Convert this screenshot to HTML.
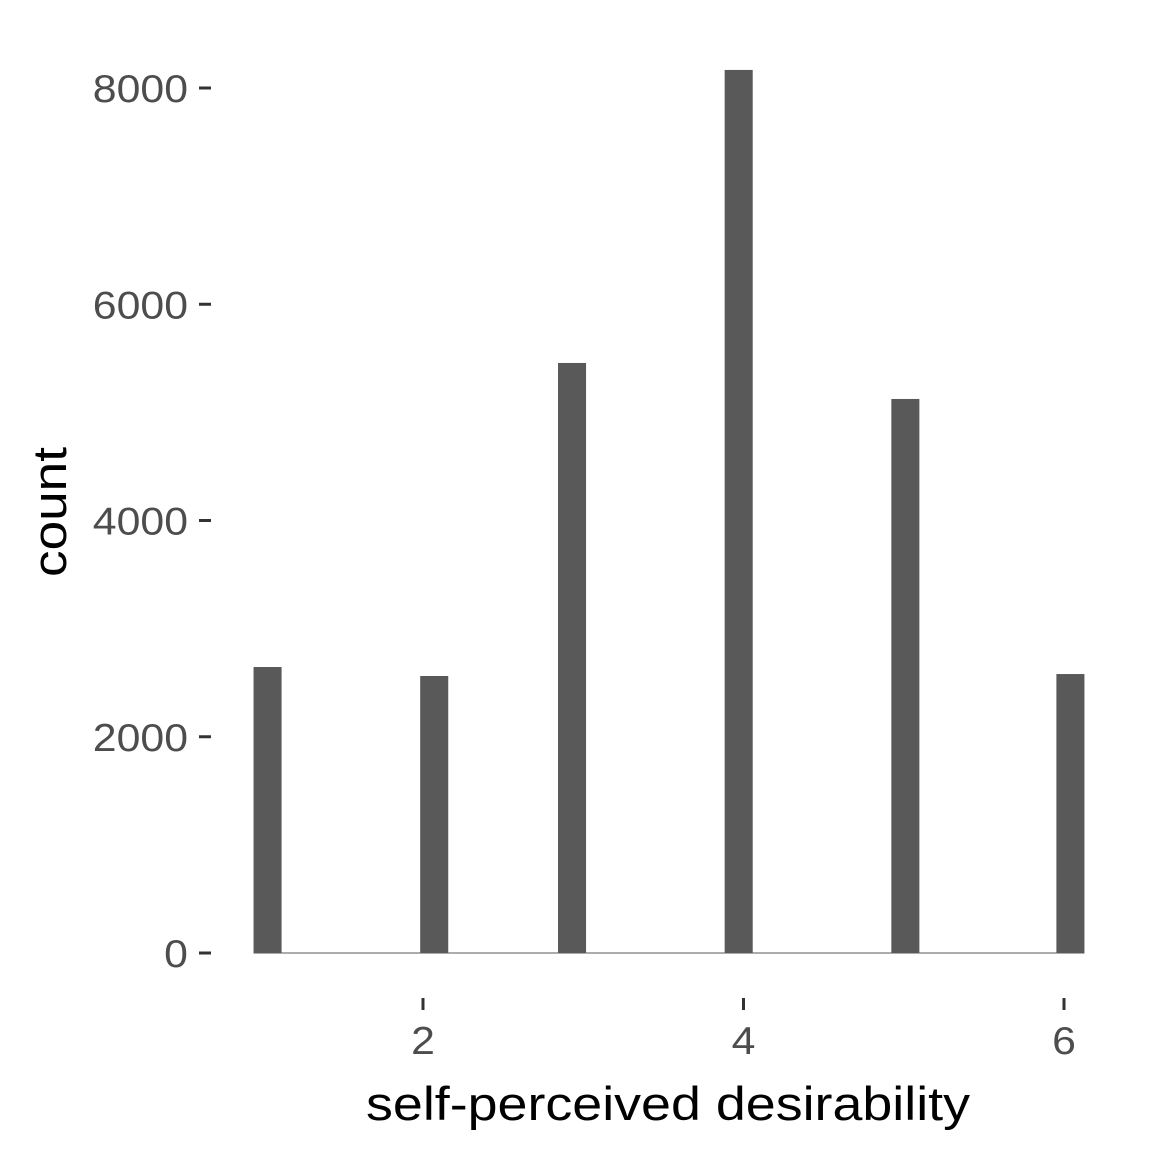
<!DOCTYPE html>
<html><head><meta charset="utf-8"><style>
html,body{margin:0;padding:0;background:#fff;}
svg{display:block;font-family:"Liberation Sans",Arial,sans-serif;}
</style></head><body>
<svg id="chart" width="1152" height="1152" viewBox="0 0 1152 1152" xmlns="http://www.w3.org/2000/svg">
<g id="bars"></g>
<g id="yaxis"></g>
<g id="xaxis"></g>
<text x="668" y="1120" text-anchor="middle" font-size="47" textLength="604" lengthAdjust="spacingAndGlyphs" fill="#000">self-perceived desirability</text>
<text transform="translate(66,512) rotate(-90)" text-anchor="middle" font-size="47" textLength="130" lengthAdjust="spacingAndGlyphs" fill="#000">count</text>
</svg>
<script>
const binCenters = [1.03, 2.07, 2.93, 3.97, 5.01, 6.04];
const counts = [2645, 2562, 5457, 8167, 5124, 2580];
const yTicks = [0, 2000, 4000, 6000, 8000];
const xTicks = [2, 4, 6];
const binWidth = 0.175;
const NS = "http://www.w3.org/2000/svg";
const xs = v => 423 + (v - 2) * 160.25;
const ys = v => 953 - v * (865 / 8000);
function mk(tag, attrs, parent){const e=document.createElementNS(NS,tag);for(const k in attrs)e.setAttribute(k,attrs[k]);parent.appendChild(e);return e;}
const bars=document.getElementById('bars');
binCenters.forEach((c,i)=>{
  const x0=xs(c-binWidth/2), x1=xs(c+binWidth/2);
  const r=mk('rect',{x:x0,y:ys(counts[i]),width:x1-x0,height:ys(0)-ys(counts[i]),fill:'#595959'},bars);
  
  
});
const base=mk('line',{x1:xs(binCenters[0]-binWidth/2),x2:xs(binCenters[binCenters.length-1]+binWidth/2),y1:ys(0),y2:ys(0),stroke:'#595959','stroke-width':1},bars);


const ya=document.getElementById('yaxis');
yTicks.forEach(t=>{
  const l=mk('line',{x1:199,x2:211,y1:ys(t),y2:ys(t),stroke:'#333','stroke-width':3},ya);
  
  
  const s=String(t);
  const tx=mk('text',{x:188,y:ys(t)+14,'text-anchor':'end','font-size':39,fill:'#4d4d4d',textLength:s.length*23.8,lengthAdjust:'spacingAndGlyphs'},ya);
  tx.textContent=s;
  
  
});
const xa=document.getElementById('xaxis');
xTicks.forEach(t=>{
  const l=mk('line',{x1:xs(t),x2:xs(t),y1:998,y2:1010,stroke:'#333','stroke-width':3},xa);
  
  
  const tx=mk('text',{x:xs(t),y:1054,'text-anchor':'middle','font-size':39,fill:'#4d4d4d',textLength:23.8,lengthAdjust:'spacingAndGlyphs'},xa);
  tx.textContent=t;
  
  
});
</script>
</body></html>
